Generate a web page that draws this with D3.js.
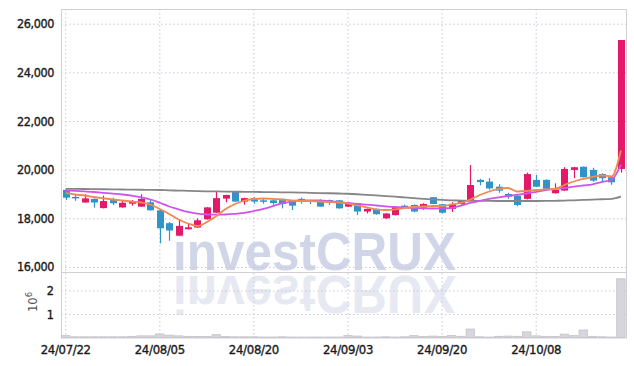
<!DOCTYPE html>
<html><head><meta charset="utf-8">
<script src="https://cdn.jsdelivr.net/npm/d3@7"></script>
<style>body{margin:0;background:#fff}svg{display:block}</style>
</head><body>
<svg id="c" width="634" height="366"></svg>
<script>
const dates = ["24/07/22","24/07/23","24/07/24","24/07/25","24/07/26","24/07/29","24/07/30","24/07/31","24/08/01","24/08/02",
"24/08/05","24/08/06","24/08/07","24/08/08","24/08/09","24/08/12","24/08/13","24/08/14","24/08/16","24/08/19",
"24/08/20","24/08/21","24/08/22","24/08/23","24/08/26","24/08/27","24/08/28","24/08/29","24/08/30","24/09/02",
"24/09/03","24/09/04","24/09/05","24/09/06","24/09/09","24/09/10","24/09/11","24/09/12","24/09/13","24/09/19",
"24/09/20","24/09/23","24/09/24","24/09/25","24/09/26","24/09/27","24/09/30","24/10/02","24/10/04","24/10/07",
"24/10/08","24/10/10","24/10/11","24/10/14","24/10/15","24/10/16","24/10/17","24/10/18","24/10/21","24/10/22"];
const openP  = [19170,18880,18650,18800,18420,18750,18450,18600,18480,18660,18330,17800,17290,17550,17620,17960,18230,18810,19100,18690,
18830,18740,18740,18800,18690,18800,18740,18750,18750,18740,18480,18620,18280,18390,18000,18130,18520,18550,18440,18870,
18580,18390,18590,18750,19580,19510,19300,19000,18930,18800,19580,19580,19030,19140,19990,20120,19990,19820,19690,20030];
const highP  = [19200,18980,18990,18820,18930,18850,18740,18750,18990,18750,18340,17850,17970,17800,18000,18460,19120,18970,19110,18850,
18870,18800,18820,18810,18700,18850,18760,18780,18770,18750,18650,18630,18400,18400,18210,18500,18560,18570,18620,18880,
18600,18660,18760,20190,19620,19650,19400,19050,18950,19880,19780,19600,19440,20100,20110,20130,20080,19850,19700,25330];
const lowP   = [18750,18720,18640,18440,18410,18550,18440,18520,18470,18320,16970,17080,17280,17540,17610,17950,18220,18660,18680,18560,
18600,18600,18560,18410,18340,18600,18590,18480,18550,18400,18470,18140,18200,18150,17980,18120,18400,18250,18350,18580,
18200,18260,18560,18720,19360,19180,19050,18800,18500,18780,19280,19150,19020,19130,19650,19680,19500,19480,19380,19880];
const closeP = [18850,18850,18820,18650,18710,18620,18640,18700,18800,18330,17590,17500,17690,17630,17920,18450,18830,18960,18690,18830,
18690,18680,18630,18590,18520,18740,18690,18480,18670,18410,18620,18280,18390,18170,18200,18460,18460,18280,18590,18590,
18230,18590,18710,19370,19490,19230,19140,18890,18550,19820,19300,19210,19170,20030,20100,19690,19550,19650,19480,25330];
const volume = [0.08,0.03,0.03,0.03,0.03,0.03,0.03,0.05,0.07,0.07,0.15,0.10,0.07,0.05,0.04,0.04,0.12,0.04,0.03,0.03,
0.03,0.02,0.02,0.03,0.02,0.02,0.02,0.02,0.02,0.02,0.08,0.06,0.02,0.02,0.03,0.02,0.03,0.08,0.04,0.06,
0.05,0.08,0.05,0.36,0.03,0.02,0.05,0.06,0.05,0.24,0.07,0.05,0.04,0.14,0.08,0.32,0.05,0.03,0.02,2.5];
const ma5 = [19042,18980,18939,18877,18824,18774,18733,18692,18651,18569,18384,18179,17952,17788,17685,17850,18096,18384,18590,18733,
18795,18816,18803,18774,18733,18713,18713,18692,18672,18651,18610,18528,18446,18364,18343,18364,18425,18466,18487,18507,
18507,18569,18631,18774,18960,19103,19206,19247,19103,19124,19165,19186,19206,19370,19514,19617,19699,19761,19720,20788];
const ma20 = [19144,19125,19105,19083,19050,19015,18980,18930,18860,18774,18640,18487,18370,18261,18190,18158,18150,18158,18185,18220,
18300,18384,18500,18610,18690,18733,18740,18733,18705,18672,18630,18590,18560,18528,18495,18466,18445,18425,18412,18405,
18410,18425,18520,18631,18720,18795,18860,18918,18970,19021,19090,19165,19210,19247,19300,19350,19400,19494,19576,20193];
const ma60 = [19210,19208,19205,19200,19195,19190,19185,19180,19175,19170,19165,19150,19140,19130,19120,19112,19105,19100,19095,19090,
19085,19080,19075,19070,19065,19060,19050,19040,19030,19020,19010,18990,18965,18940,18915,18890,18860,18830,18800,18775,
18755,18740,18730,18722,18718,18715,18713,18713,18713,18713,18713,18715,18720,18730,18742,18755,18770,18785,18800,18890];
const priceTicks = [16000,18000,20000,22000,24000,26000];
const volTicks = [1,2];
const xTickDates = ["24/07/22","24/08/05","24/08/20","24/09/03","24/09/20","24/10/08"];

const svg = d3.select("#c");
const L = 61, R = 626, T = 9, MID = 272, B = 337.5;
const x = d3.scalePoint().domain(dates).range([65.7, 620.9]);
const y = d3.scaleLinear().domain([15794, 26604]).range([MID, T]);
const yv = d3.scaleLinear().domain([0, 2.79]).range([B, MID]);
const UP = "#e5196a", DOWN = "#2f95c9";
const gridC = "#c6c8dc";

// watermark
const wm = svg.append("g");
wm.append("text").attr("x",173).attr("y",270).attr("textLength",283).attr("lengthAdjust","spacingAndGlyphs")
  .attr("font-family","Liberation Sans, Arial, sans-serif").attr("font-weight","bold").attr("font-size",53)
  .attr("fill","#d0d5e8").text("investCRUX");
wm.append("text").attr("transform","translate(0,546) scale(1,-1)")
  .attr("x",173).attr("y",270).attr("textLength",283).attr("lengthAdjust","spacingAndGlyphs")
  .attr("font-family","Liberation Sans, Arial, sans-serif").attr("font-weight","bold").attr("font-size",53)
  .attr("fill","#e6e8f2").text("investCRUX");

// grid
const g = svg.append("g");
g.selectAll(".hg").data(priceTicks).join("line").attr("x1",L).attr("x2",R)
  .attr("y1",d=>y(d)+0.5).attr("y2",d=>y(d)+0.5).attr("stroke",gridC).attr("stroke-dasharray","1.5,2.5");
g.selectAll(".vg").data(volTicks).join("line").attr("x1",L).attr("x2",R)
  .attr("y1",d=>yv(d)+0.5).attr("y2",d=>yv(d)+0.5).attr("stroke",gridC).attr("stroke-dasharray","1.5,2.5");
g.selectAll(".xg").data(xTickDates).join("line").attr("x1",d=>x(d)).attr("x2",d=>x(d))
  .attr("y1",T).attr("y2",B).attr("stroke",gridC).attr("stroke-dasharray","1.5,2.5");

// frame
svg.append("rect").attr("x",L+0.5).attr("y",T+0.5).attr("width",R-L).attr("height",B-T)
  .attr("fill","none").attr("stroke","#cfcfd4");
svg.append("line").attr("x1",L).attr("x2",R).attr("y1",MID+0.5).attr("y2",MID+0.5).attr("stroke","#cfcfd4");

// volume bars
const bw = x.step();
svg.append("g").selectAll("rect").data(dates).join("rect")
  .attr("x",d=>x(d)-bw/2+0.5).attr("width",bw-1)
  .attr("y",(d,i)=>yv(volume[i])).attr("height",(d,i)=>B-yv(volume[i]))
  .attr("fill","#d6d6dc").attr("stroke","#c2c2c8").attr("stroke-width",0.8);

// candles
const cg = svg.append("g");
const cw = 7;
dates.forEach((d,i)=>{
  const up = closeP[i] >= openP[i];
  const col = up ? UP : DOWN;
  cg.append("line").attr("x1",Math.round(x(d))+0.5).attr("x2",Math.round(x(d))+0.5)
    .attr("y1",y(highP[i])).attr("y2",y(lowP[i])).attr("stroke",col).attr("stroke-width",1.2);
  const top = y(Math.max(openP[i],closeP[i])), bot = y(Math.min(openP[i],closeP[i]));
  cg.append("rect").attr("x",Math.round(x(d))+0.5-cw/2).attr("width",cw)
    .attr("y",top).attr("height",Math.max(1.5,bot-top)).attr("fill",col);
});

// moving averages
const line = arr => d3.line().x((d,i)=>x(dates[i])).y(d=>y(d)).curve(d3.curveMonotoneX)(arr);
svg.append("path").attr("d",line(ma60)).attr("fill","none").attr("stroke","#868686").attr("stroke-width",1.8);
svg.append("path").attr("d",line(ma20)).attr("fill","none").attr("stroke","#cf55ea").attr("stroke-width",1.8);
svg.append("path").attr("d",line(ma5)).attr("fill","none").attr("stroke","#ef8a52").attr("stroke-width",1.8);

// axes labels
const fnt = "DejaVu Sans Condensed, DejaVu Sans, sans-serif";
svg.append("g").selectAll("text").data(priceTicks).join("text")
  .attr("x",54).attr("y",d=>y(d)+4.5).attr("text-anchor","end").attr("font-family",fnt)
  .attr("font-size",12.5).attr("fill","#1a1a1a").attr("stroke","#1a1a1a").attr("stroke-width",0.35)
  .attr("letter-spacing",-0.4).text(d3.format(","));
svg.append("g").selectAll("text").data(volTicks).join("text")
  .attr("x",54).attr("y",d=>yv(d)+4.5).attr("text-anchor","end").attr("font-family",fnt)
  .attr("font-size",12.5).attr("fill","#1a1a1a").attr("stroke","#1a1a1a").attr("stroke-width",0.35).text(d=>d);
svg.append("g").selectAll("text").data(xTickDates).join("text")
  .attr("x",d=>x(d)).attr("y",354).attr("text-anchor","middle").attr("font-family",fnt)
  .attr("font-size",13).attr("fill","#1a1a1a").attr("stroke","#1a1a1a").attr("stroke-width",0.35)
  .attr("letter-spacing",-0.3).text(d=>d);
const vl = svg.append("text").attr("transform","translate(37,312) rotate(-90)")
  .attr("font-family","DejaVu Sans, sans-serif").attr("font-size",11.5).attr("fill","#555");
vl.append("tspan").text("10");
vl.append("tspan").attr("dy",-5).attr("font-size",8.5).text("6");
</script>
</body></html>
